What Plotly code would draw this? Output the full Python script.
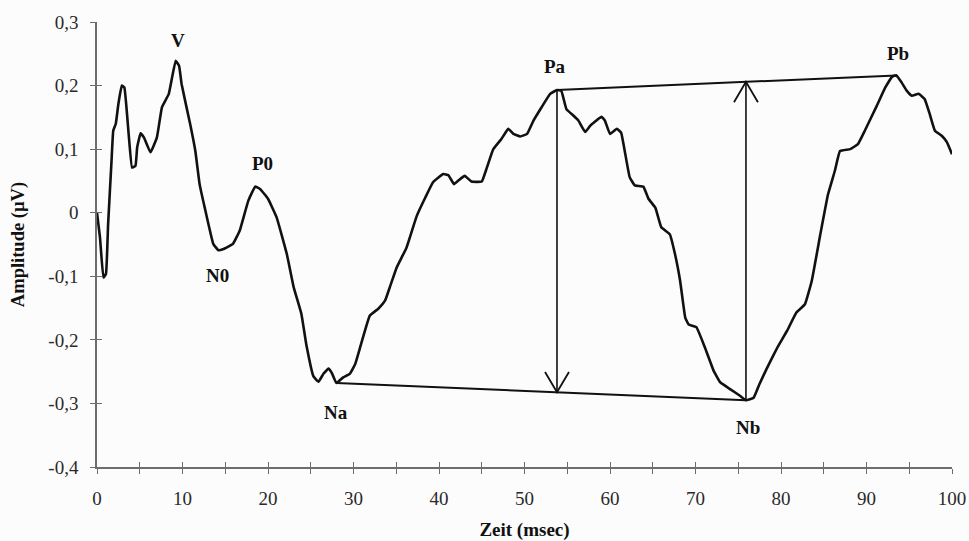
import plotly.graph_objects as go

# Averaged evoked response: time (ms) and amplitude (µV)
zeit_ms = [
    0.0, 0.35, 0.75, 1.05, 1.3, 1.7, 1.9, 2.2, 2.5, 2.9, 3.2, 3.7, 4.1, 4.5, 4.7,
    5.1, 5.5, 6.25, 7.0, 7.6, 8.4, 9.2, 9.6, 9.9, 10.9, 11.5, 12.0, 12.6, 13.6,
    14.2, 14.8, 15.9, 16.7, 17.7, 18.5, 19.1, 20.0, 21.0, 22.2, 23.0, 23.9, 24.5,
    25.3, 25.9, 26.5, 27.1, 27.5, 28.0, 28.8, 29.6, 30.2, 30.9, 31.9, 32.9, 33.7,
    34.3, 35.05, 36.2, 37.4, 38.4, 39.3, 40.5, 41.1, 41.75, 42.3, 43.0, 43.8,
    45.0, 45.6, 46.35, 47.3, 48.1, 48.7, 49.5, 50.3, 51.05, 52.0, 53.0, 53.8,
    54.3, 54.9, 55.7, 56.3, 57.1, 57.7, 58.4, 59.0, 59.4, 60.0, 60.8, 61.3,
    61.75, 62.3, 62.9, 63.9, 64.5, 65.3, 66.0, 67.0, 67.6, 68.2, 68.8, 69.2,
    70.1, 71.1, 72.1, 72.9, 74.0, 75.2, 75.9, 76.8, 77.5, 78.3, 79.5, 80.7,
    81.8, 82.8, 83.6, 84.6, 85.5, 86.3, 86.9, 88.1, 89.0, 89.8, 91.2, 92.2,
    93.0, 93.5, 94.1, 94.7, 95.3, 96.1, 96.8, 97.4, 98.0, 98.8, 99.4, 100.0,
]
amplitude_uv = [
    0.0, -0.039, -0.102, -0.096, -0.018, 0.082, 0.129, 0.14, 0.171, 0.2, 0.197,
    0.124, 0.071, 0.074, 0.103, 0.125, 0.118, 0.095, 0.118, 0.166, 0.187, 0.239,
    0.231, 0.202, 0.139, 0.097, 0.045, 0.008, -0.049, -0.059, -0.057, -0.049,
    -0.028, 0.019, 0.041, 0.037, 0.022, -0.007, -0.065, -0.117, -0.159, -0.209,
    -0.257, -0.266, -0.253, -0.245, -0.253, -0.268, -0.259, -0.253, -0.238,
    -0.206, -0.162, -0.151, -0.138, -0.115, -0.086, -0.055, -0.005, 0.024, 0.048,
    0.061, 0.059, 0.045, 0.051, 0.058, 0.049, 0.049, 0.071, 0.100, 0.116, 0.132,
    0.124, 0.120, 0.124, 0.145, 0.166, 0.187, 0.193, 0.192, 0.163, 0.153, 0.145,
    0.127, 0.137, 0.145, 0.151, 0.145, 0.124, 0.132, 0.126, 0.095, 0.056, 0.043,
    0.041, 0.022, 0.008, -0.023, -0.034, -0.065, -0.107, -0.165, -0.176, -0.180,
    -0.212, -0.248, -0.267, -0.277, -0.288, -0.295, -0.291, -0.269, -0.246,
    -0.214, -0.186, -0.157, -0.144, -0.107, -0.034, 0.029, 0.066, 0.097, 0.100,
    0.108, 0.129, 0.168, 0.197, 0.214, 0.216, 0.205, 0.192, 0.184, 0.187, 0.179,
    0.155, 0.129, 0.121, 0.111, 0.092,
]

# Named peaks: label, latency (ms), amplitude (µV), label offset in px (dx, dy)
peak_names = ["V", "N0", "P0", "Na", "Pa", "Nb", "Pb"]
peak_ms = [9.2, 14.2, 18.5, 28.0, 53.8, 75.9, 93.5]
peak_uv = [0.239, -0.059, 0.041, -0.268, 0.193, -0.295, 0.216]
label_dx = [2, -1, 7, 0, -2, 2, 2]
label_dy = [20, -25, 23, -29, 24, -27, 22]

x_ticks = [0, 10, 20, 30, 40, 50, 60, 70, 80, 90, 100]
y_ticks = [-0.4, -0.3, -0.2, -0.1, 0, 0.1, 0.2, 0.3]
y_tick_text = ["-0,4", "-0,3", "-0,2", "-0,1", "0", "0,1", "0,2", "0,3"]

SERIF = "Liberation Serif, Times New Roman, serif"
AXIS_COL = "#6a6e6e"
X_RANGE = [0, 100]
Y_RANGE = [-0.4, 0.3]

pk = {n: (t, a) for n, t, a in zip(peak_names, peak_ms, peak_uv)}


def line_at(p, q, t):
    """Amplitude of the straight line through peaks p and q at time t."""
    (t0, a0), (t1, a1) = pk[p], pk[q]
    return a0 + (a1 - a0) * (t - t0) / (t1 - t0)


fig = go.Figure()

# Waveform
fig.add_trace(go.Scatter(
    x=zeit_ms, y=amplitude_uv, mode="lines",
    line=dict(color="#111111", width=2.6, shape="spline", smoothing=0.3),
    hoverinfo="skip",
))

# Baselines Na–Nb and Pa–Pb
for p, q in (("Na", "Nb"), ("Pa", "Pb")):
    fig.add_trace(go.Scatter(
        x=[pk[p][0], pk[q][0]], y=[pk[p][1], pk[q][1]], mode="lines",
        line=dict(color="#111111", width=2), hoverinfo="skip",
    ))

# Peak-to-peak arrows: Pa down to the Na–Nb line, Nb up to the Pa–Pb line
head_dx, head_dy = 1.4, 0.032
arrows = [
    (pk["Pa"][0], pk["Pa"][1], line_at("Na", "Nb", pk["Pa"][0])),
    (pk["Nb"][0], pk["Nb"][1], line_at("Pa", "Pb", pk["Nb"][0])),
]
for t, a_from, a_to in arrows:
    fig.add_trace(go.Scatter(
        x=[t, t], y=[a_from, a_to], mode="lines",
        line=dict(color="#111111", width=1.6), hoverinfo="skip",
    ))
    back = head_dy if a_to < a_from else -head_dy
    fig.add_trace(go.Scatter(
        x=[t - head_dx, t, t + head_dx],
        y=[a_to + back, a_to, a_to + back], mode="lines",
        line=dict(color="#111111", width=1.8), hoverinfo="skip",
    ))

# Peak labels
for n, t, a, dx, dy in zip(peak_names, peak_ms, peak_uv, label_dx, label_dy):
    fig.add_annotation(
        x=t, y=a, xref="x", yref="y", text=f"<b>{n}</b>", showarrow=False,
        xshift=dx, yshift=dy, xanchor="center", yanchor="middle",
        font=dict(family=SERIF, size=19, color="#111111"),
    )

axis_common = dict(showgrid=False, zeroline=False, showline=True,
                   linecolor=AXIS_COL, linewidth=1.6, tickcolor=AXIS_COL,
                   tickwidth=1.3, ticklen=5, automargin=False)

fig.update_layout(
    width=969, height=541,
    margin=dict(l=97, r=17, t=22, b=74),
    paper_bgcolor="#fcfcfc", plot_bgcolor="#fcfcfc",
    showlegend=False,
    xaxis=dict(
        range=X_RANGE, tickvals=x_ticks, ticks="outside",
        minor=dict(dtick=5, ticks="outside", ticklen=5, tickcolor=AXIS_COL, tickwidth=1.3),
        tickfont=dict(family=SERIF, size=19, color="#2a2a2a"),
        ticklabelstandoff=8,
        title=dict(text="<b>Zeit (msec)</b>", standoff=22,
                   font=dict(family=SERIF, size=19, color="#111111")),
        **axis_common,
    ),
    yaxis=dict(
        range=Y_RANGE, tickvals=y_ticks, ticktext=y_tick_text, ticks="outside",
        tickfont=dict(family=SERIF, size=19, color="#2a2a2a"),
        ticklabelstandoff=8,
        title=dict(text="<b>Amplitude (µV)</b>", standoff=19,
                   font=dict(family=SERIF, size=18.5, color="#111111")),
        **axis_common,
    ),
    # Overlaid axes supply the inner half of each tick so ticks cross the axis lines
    xaxis2=dict(
        range=X_RANGE, overlaying="x", side="bottom", anchor="y",
        tickvals=x_ticks, ticks="inside", showticklabels=False,
        minor=dict(dtick=5, ticks="inside", ticklen=5, tickcolor=AXIS_COL, tickwidth=1.3),
        **axis_common,
    ),
    yaxis2=dict(
        range=Y_RANGE, overlaying="y", side="left", anchor="x",
        tickvals=y_ticks, ticks="inside", showticklabels=False,
        **axis_common,
    ),
)

# Invisible trace to activate the overlay axes
fig.add_trace(go.Scatter(x=[0], y=[0], xaxis="x2", yaxis="y2", mode="markers",
                         marker=dict(opacity=0), hoverinfo="skip"))

fig.write_html("out.html")
